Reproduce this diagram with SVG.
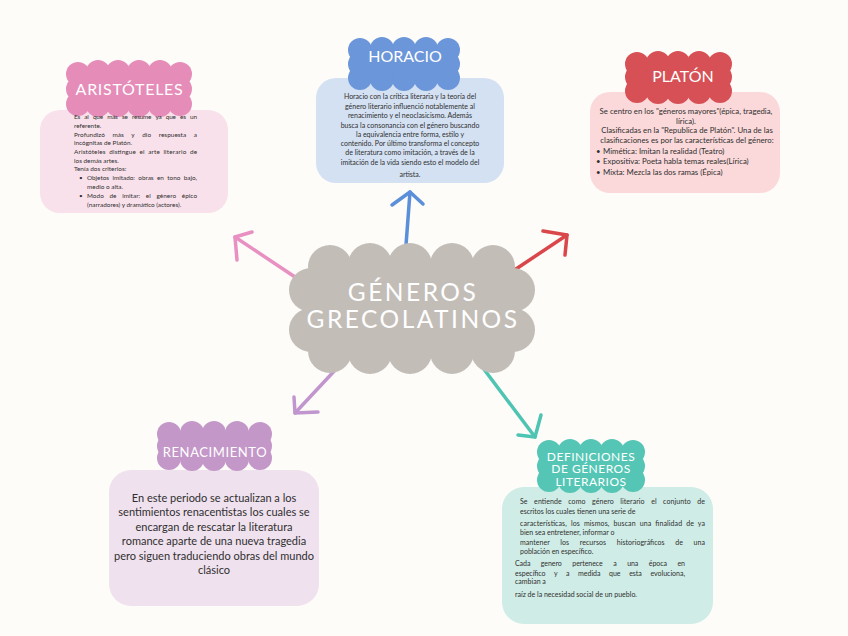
<svg xmlns="http://www.w3.org/2000/svg" width="848" height="636" viewBox="0 0 848 636">
<style>
.t{font-family:Lato,"Open Sans","Liberation Sans",sans-serif;fill:#ffffff;text-anchor:middle}
.b{font-family:Lato,"Open Sans","Liberation Sans",sans-serif;fill:#2f2f2f}
.s{font-size:6.4px}
.h{font-size:7px}
.p{font-size:7.8px}
.c{text-anchor:middle}
.ar{fill:none;stroke-width:3.5;stroke-linecap:round;stroke-linejoin:round}
</style>
<rect width="848" height="636" fill="#fdfcf8"/>
<g id="connectors">
<g stroke="#e890c2" class="ar"><polyline points="295,277 235,237"/><polyline points="252,232 235,237 237,260"/></g>
<g stroke="#5b8fd9" class="ar"><polyline points="406,245 410,192"/><polyline points="392,205 410,192 423,204"/></g>
<g stroke="#d9474b" class="ar"><polyline points="513,271 567,235"/><polyline points="543,231 567,235 565,255"/></g>
<g stroke="#c196cf" class="ar"><polyline points="338,367 295,413"/><polyline points="294,397 295,413 318,412"/></g>
<g stroke="#4ec4b3" class="ar"><polyline points="477,360 535,437"/><polyline points="518,435 535,437 541,415"/></g>
</g>
<g id="center">
<g fill="#c3bdb8">
<rect x="311" y="267" width="202" height="84"/>
<circle cx="330" cy="267" r="22"/><circle cx="370" cy="265" r="22"/><circle cx="410" cy="265" r="22"/><circle cx="452" cy="265" r="22"/><circle cx="493" cy="267" r="22"/>
<circle cx="330" cy="351" r="22"/><circle cx="370" cy="352" r="22"/><circle cx="410" cy="352" r="22"/><circle cx="452" cy="352" r="22"/><circle cx="493" cy="351" r="22"/>
<circle cx="311" cy="290" r="22"/><circle cx="311" cy="330" r="22"/><circle cx="513" cy="290" r="22"/><circle cx="513" cy="330" r="22"/>
</g>
<text class="t" x="413" y="301" font-size="24.5" letter-spacing="2.5">GÉNEROS</text>
<text class="t" x="413" y="328" font-size="24.5" letter-spacing="2.5">GRECOLATINOS</text>
</g>
<g id="aristoteles">
<rect x="40" y="110" width="188" height="103" rx="20" fill="#f9e1eb"/>
<g fill="#e58cb9">
<rect x="78" y="74" width="102" height="30"/>
<circle cx="78" cy="74" r="12"/><circle cx="98" cy="72" r="12"/><circle cx="118" cy="72" r="12"/><circle cx="139" cy="72" r="12"/><circle cx="160" cy="72" r="12"/><circle cx="180" cy="74" r="12"/>
<circle cx="78" cy="104" r="12"/><circle cx="98" cy="105" r="12"/><circle cx="118" cy="105" r="12"/><circle cx="139" cy="105" r="12"/><circle cx="160" cy="105" r="12"/><circle cx="180" cy="104" r="12"/>
<circle cx="78" cy="89" r="12"/><circle cx="180" cy="89" r="12"/>
</g>
<text class="t" x="129.5" y="95" font-size="16" letter-spacing="0.7">ARISTÓTELES</text>
<g class="b s">
<text x="74" y="119" word-spacing="3" textLength="123" lengthAdjust="spacing">Es al que más se resume ya que es un</text>
<text x="74" y="128">referente.</text>
<text x="74" y="137" word-spacing="6" textLength="123" lengthAdjust="spacing">Profundizó más y dio respuesta a</text>
<text x="74" y="145">incógnitas de Platón.</text>
<text x="74" y="154" word-spacing="1.7" textLength="123" lengthAdjust="spacing">Aristóteles distingue el arte literario de</text>
<text x="74" y="163">los demás  artes.</text>
<text x="74" y="171">Tenía dos criterios:</text>
<text x="79" y="180">•</text>
<text x="87" y="180" word-spacing="1.8" textLength="110" lengthAdjust="spacing">Objetos imitado: obras en tono bajo,</text>
<text x="87" y="189">medio o alta.</text>
<text x="79" y="198">•</text>
<text x="87" y="198" word-spacing="4" textLength="110" lengthAdjust="spacing">Modo de imitar: el género épico</text>
<text x="87" y="207">(narradores) y dramático (actores).</text>
</g>
</g>
<g id="horacio">
<rect x="316" y="78" width="188" height="105" rx="20" fill="#d4e1f3"/>
<g fill="#6b96d9">
<rect x="360" y="50" width="88" height="28"/>
<circle cx="360" cy="50" r="12"/><circle cx="382" cy="49" r="12"/><circle cx="404" cy="49" r="12"/><circle cx="426" cy="49" r="12"/><circle cx="448" cy="50" r="12"/>
<circle cx="360" cy="78" r="12"/><circle cx="382" cy="79" r="12"/><circle cx="404" cy="79" r="12"/><circle cx="426" cy="79" r="12"/><circle cx="448" cy="78" r="12"/>
<circle cx="360" cy="64" r="12"/><circle cx="448" cy="64" r="12"/>
</g>
<text class="t" x="405" y="62" font-size="16">HORACIO</text>
<g class="b h c">
<text x="410" y="99">Horacio con la crítica literaria y la teoría del</text>
<text x="410" y="108.5">género literario influenció notablemente al</text>
<text x="410" y="118">renacimiento y el neoclasicismo. Además</text>
<text x="410" y="127.5">busca la consonancia con el género buscando</text>
<text x="410" y="137">la equivalencia entre forma, estilo y</text>
<text x="410" y="146">contenido. Por último transforma el concepto</text>
<text x="410" y="155">de literatura como imitación, a través de la</text>
<text x="410" y="164.5">imitación de la vida siendo esto el modelo del</text>
<text x="410" y="177">artista.</text>
</g>
</g>
<g id="platon">
<rect x="590" y="92" width="190" height="101" rx="20" fill="#fbd9da"/>
<g fill="#d65056">
<rect x="637" y="64" width="83" height="27"/>
<circle cx="637" cy="64" r="12"/><circle cx="658" cy="63" r="12"/><circle cx="678" cy="63" r="12"/><circle cx="699" cy="63" r="12"/><circle cx="720" cy="64" r="12"/>
<circle cx="637" cy="91" r="12"/><circle cx="658" cy="92" r="12"/><circle cx="678" cy="92" r="12"/><circle cx="699" cy="92" r="12"/><circle cx="720" cy="91" r="12"/>
<circle cx="637" cy="77" r="12"/><circle cx="720" cy="77" r="12"/>
</g>
<text class="t" x="683" y="82" font-size="16">PLATÓN</text>
<g class="b p">
<text class="c" x="686" y="114">Se centro en los "géneros mayores"(épica, tragedia,</text>
<text class="c" x="686" y="123.5">lírica).</text>
<text class="c" x="687" y="133">Clasificadas en la "Republica de Platón". Una de las</text>
<text class="c" x="687" y="142.5">clasificaciones es por las características del género:</text>
<text x="596" y="154">•</text><text x="603" y="154">Mimética: Imitan la realidad (Teatro)</text>
<text x="596" y="164">•</text><text x="603" y="164">Expositiva: Poeta habla temas reales(Lírica)</text>
<text x="596" y="175">•</text><text x="603" y="175">Mixta: Mezcla las dos ramas (Épica)</text>
</g>
</g>
<g id="renacimiento">
<rect x="109" y="470" width="210" height="136" rx="22" fill="#efe1ee"/>
<g fill="#c497c9">
<rect x="169" y="434" width="91" height="24"/>
<circle cx="169" cy="434" r="12"/><circle cx="192" cy="433" r="12"/><circle cx="214" cy="433" r="12"/><circle cx="237" cy="433" r="12"/><circle cx="260" cy="434" r="12"/>
<circle cx="169" cy="458" r="12"/><circle cx="192" cy="459" r="12"/><circle cx="214" cy="459" r="12"/><circle cx="237" cy="459" r="12"/><circle cx="260" cy="458" r="12"/>
<circle cx="169" cy="446" r="12"/><circle cx="260" cy="446" r="12"/>
</g>
<text class="t" x="215" y="457" font-size="13" letter-spacing="0.6">RENACIMIENTO</text>
<g class="b c" font-size="11">
<text x="214" y="501.5">En este periodo se actualizan a los</text>
<text x="214" y="516">sentimientos renacentistas los cuales se</text>
<text x="214" y="530.5">encargan de rescatar la literatura</text>
<text x="214" y="545">romance aparte de una nueva tragedia</text>
<text x="214" y="559.5">pero siguen traduciendo obras del mundo</text>
<text x="214" y="574">clásico</text>
</g>
</g>
<g id="definiciones">
<rect x="502" y="487" width="211" height="137" rx="22" fill="#cfece6"/>
<g fill="#55c6b5">
<rect x="549" y="452" width="84" height="28"/>
<circle cx="549" cy="452" r="12"/><circle cx="570" cy="451" r="12"/><circle cx="591" cy="451" r="12"/><circle cx="612" cy="451" r="12"/><circle cx="633" cy="452" r="12"/>
<circle cx="549" cy="480" r="12"/><circle cx="570" cy="481" r="12"/><circle cx="591" cy="481" r="12"/><circle cx="612" cy="481" r="12"/><circle cx="633" cy="480" r="12"/>
<circle cx="549" cy="466" r="12"/><circle cx="633" cy="466" r="12"/>
</g>
<g class="t" font-size="12" letter-spacing="0.5">
<text x="591" y="460.5">DEFINICIONES</text>
<text x="591" y="473">DE GÉNEROS</text>
<text x="591" y="485.5">LITERARIOS</text>
</g>
<g class="b h">
<text x="520" y="504" word-spacing="4.6" textLength="185" lengthAdjust="spacing">Se entiende como género literario el conjunto de</text>
<text x="520" y="513.5">escritos los cuales tienen una serie de</text>
<text x="520" y="525.5" word-spacing="2.1" textLength="185" lengthAdjust="spacing">características, los mismos, buscan una finalidad de ya</text>
<text x="520" y="534.5">bien sea entretener, informar o</text>
<text x="520" y="545" word-spacing="8.8" textLength="185" lengthAdjust="spacing">mantener los recursos historiográficos de una</text>
<text x="520" y="554">población en específico.</text>
<text x="515" y="565.5" word-spacing="8.8" textLength="170" lengthAdjust="spacing">Cada genero pertenece a una época en</text>
<text x="515" y="575.5" word-spacing="6.8" textLength="170" lengthAdjust="spacing">específico y a medida que esta evoluciona,</text>
<text x="515" y="584">cambian a</text>
<text x="515" y="596.5">raíz de la necesidad social de un pueblo.</text>
</g>
</g>
</svg>
